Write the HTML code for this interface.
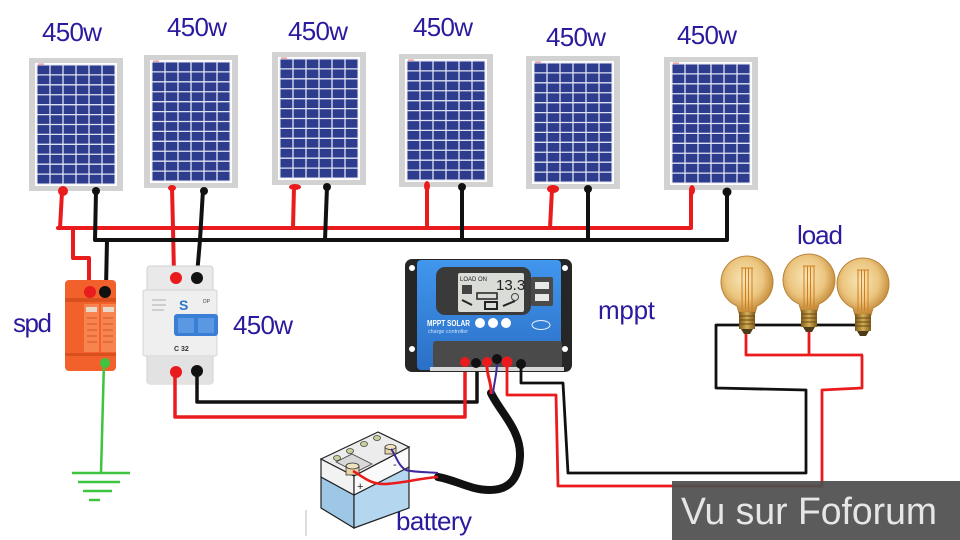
<!DOCTYPE html>
<html><head><meta charset="utf-8"><style>
html,body{margin:0;padding:0;background:#fff;width:960px;height:540px;overflow:hidden}
svg{display:block}
.lbl{font-family:"Liberation Sans",Arial,sans-serif;font-size:26px;fill:#2a1a9e}
</style></head><body>
<svg width="960" height="540" viewBox="0 0 960 540" xmlns="http://www.w3.org/2000/svg">
<defs>
<g id="panel">
<rect width="94" height="133" fill="#d2d2d2"/>
<rect x="6" y="5" width="82" height="123" fill="#fff"/>
<rect x="8" y="7" width="78" height="119" fill="#2e3c8e"/>
<path d="M21,7V126M34,7V126M47,7V126M60,7V126M73,7V126M8,16.9H86M8,26.8H86M8,36.75H86M8,46.7H86M8,56.6H86M8,66.5H86M8,76.4H86M8,86.3H86M8,96.25H86M8,106.2H86M8,116.1H86" stroke="#dde3f3" stroke-width="1.3"/>
<rect x="8" y="7" width="78" height="119" fill="none" stroke="#e6eaf6" stroke-width="1"/>
<rect x="9" y="5.5" width="6" height="1.2" fill="#e88"/>
</g>
<radialGradient id="glass" cx="0.45" cy="0.4" r="0.6">
<stop offset="0" stop-color="#f8e6b8"/>
<stop offset="0.6" stop-color="#ebc57e"/>
<stop offset="1" stop-color="#c08532"/>
</radialGradient>
<linearGradient id="gold" x1="0" x2="1">
<stop offset="0" stop-color="#7d5a1c"/>
<stop offset="0.5" stop-color="#d4ad55"/>
<stop offset="1" stop-color="#7d5a1c"/>
</linearGradient>
<g id="bulb">
<path d="M-10,24 A26,26 0 1 1 10,24 L8,31 L-8,31 Z" fill="url(#glass)" stroke="#b98238" stroke-width="1"/>
<path d="M-5,-14V27M5,-14V27M-1.5,-14V27M1.5,-14V27M-6,-14H6" stroke="#d07d1e" stroke-width="1" fill="none"/>
<rect x="-8" y="30" width="16" height="17" fill="url(#gold)"/>
<path d="M-8,34H8M-8,38H8M-8,42H8" stroke="#6a4a14" stroke-width="1"/>
<path d="M-6,47H6L3,52H-3Z" fill="#4d3a18"/>
</g>
<linearGradient id="blueg" x1="0" y1="0" x2="0" y2="1">
<stop offset="0" stop-color="#4196ee"/>
<stop offset="1" stop-color="#2b6fc6"/>
</linearGradient>
</defs>

<use href="#panel" x="29" y="58"/>
<use href="#panel" x="144" y="55"/>
<use href="#panel" x="272" y="52"/>
<use href="#panel" x="399" y="54"/>
<use href="#panel" x="526" y="56"/>
<use href="#panel" x="664" y="57"/>

<text class="lbl" x="42" y="41" textLength="60">450w</text>
<text class="lbl" x="167" y="36" textLength="60">450w</text>
<text class="lbl" x="288" y="40" textLength="60">450w</text>
<text class="lbl" x="413" y="36" textLength="60">450w</text>
<text class="lbl" x="546" y="46" textLength="60">450w</text>
<text class="lbl" x="677" y="44" textLength="60">450w</text>
<text class="lbl" x="13" y="332" textLength="39">spd</text>
<text class="lbl" x="233" y="334" textLength="60">450w</text>
<text class="lbl" x="598" y="319" textLength="57">mppt</text>
<text class="lbl" x="797" y="244" textLength="46">load</text>
<text class="lbl" x="396" y="530" textLength="76">battery</text>

<g fill="none" stroke-width="4" stroke-linejoin="round" stroke-linecap="round">
<path d="M58,228H691V190M62,192L60,228M172,188L173,228L174,275M294,187L293,228M427,186V228M552,189L550,228" stroke="#ea1b1d"/>
<path d="M95,240H727V192M96,191L95,240M203,190L200,240L197,275M327,187L325,240M462,187V240M588,189V240" stroke="#111"/>
<path d="M73,228V258H89V288" stroke="#ea1b1d"/>
<path d="M107,240L106,288" stroke="#111"/>
</g>
<g fill="#ea1b1d">
<ellipse cx="63" cy="191" rx="5" ry="5"/>
<ellipse cx="172" cy="188" rx="4" ry="3"/>
<ellipse cx="295" cy="187" rx="6" ry="3"/>
<ellipse cx="427" cy="186" rx="3" ry="5"/>
<ellipse cx="553" cy="189" rx="6" ry="4"/>
<ellipse cx="692" cy="190" rx="3" ry="5"/>
</g>
<g fill="#111">
<circle cx="96" cy="191" r="4"/>
<circle cx="204" cy="191" r="4"/>
<circle cx="327" cy="187" r="4"/>
<circle cx="462" cy="187" r="4"/>
<circle cx="588" cy="189" r="4"/>
<circle cx="727" cy="192" r="4.5"/>
</g>

<rect x="65" y="280" width="51" height="91" rx="4" fill="#f2612c"/>
<rect x="65" y="298" width="51" height="4" fill="#d9501f"/>
<rect x="65" y="353" width="51" height="3" fill="#d9501f"/>
<rect x="84" y="304" width="15" height="48" fill="#f7834f"/>
<rect x="101" y="304" width="15" height="48" fill="#f7834f"/>
<rect x="86" y="307" width="11" height="5" fill="#e9d8c8"/>
<rect x="103" y="307" width="11" height="5" fill="#e9d8c8"/>
<path d="M87,318h10M87,324h10M87,330h10M87,336h10M87,342h10M103,318h10M103,324h10M103,330h10M103,336h10M103,342h10" stroke="#c24a20" stroke-width="0.8"/>
<circle cx="90" cy="292" r="6" fill="#ea1b1d"/>
<circle cx="105" cy="292" r="6" fill="#111"/>
<g stroke="#3ec43e" stroke-width="2.5" fill="none">
<path d="M104,362L101,473"/>
<path d="M72,473H130M78,482H120M83,491H112M89,500H100"/>
</g>
<circle cx="105" cy="363" r="5" fill="#3ec43e"/>

<rect x="147" y="266" width="66" height="118" rx="3" fill="#e9e9e9" stroke="#cfcfcf"/>
<rect x="143" y="290" width="74" height="66" rx="2" fill="#efefef" stroke="#d3d3d3"/>
<rect x="148" y="356" width="64" height="28" fill="#e2e2e2"/>
<path d="M152,300h14M152,305h14M152,310h12" stroke="#999" stroke-width="0.8"/>
<text x="179" y="310" font-family="Liberation Sans,sans-serif" font-size="14" font-weight="bold" fill="#2a76c8">S</text>
<text x="203" y="303" font-family="Liberation Sans,sans-serif" font-size="5" fill="#444">DP</text>
<rect x="174" y="314" width="44" height="22" rx="3" fill="#3a7ed6"/>
<rect x="178" y="318" width="16" height="15" fill="#5b98e4"/>
<rect x="198" y="318" width="16" height="15" fill="#5b98e4"/>
<text x="174" y="351" font-family="Liberation Sans,sans-serif" font-size="7" font-weight="bold" fill="#333">C 32</text>
<circle cx="176" cy="278" r="6" fill="#ea1b1d"/>
<circle cx="197" cy="278" r="6" fill="#111"/>
<circle cx="176" cy="372" r="6" fill="#ea1b1d"/>
<circle cx="197" cy="371" r="6" fill="#111"/>

<g fill="none" stroke-width="3.5" stroke-linejoin="round">
<path d="M197,371V402H477V363" stroke="#111"/>
<path d="M175,372V417H465V362" stroke="#ea1b1d"/>
</g>

<rect x="405" y="259" width="167" height="113" rx="7" fill="#262626"/>
<circle cx="412" cy="268" r="3" fill="#fff"/>
<circle cx="565" cy="268" r="3" fill="#fff"/>
<circle cx="412" cy="349" r="3" fill="#fff"/>
<circle cx="565" cy="349" r="3" fill="#fff"/>
<rect x="417" y="260" width="144" height="110" rx="4" fill="url(#blueg)"/>
<rect x="436" y="267" width="95" height="48" rx="9" fill="#3a3a3a"/>
<rect x="458" y="273" width="66" height="39" rx="2" fill="#dadcd7"/>
<text x="460" y="281" font-family="Liberation Sans,sans-serif" font-size="6" fill="#222">LOAD ON</text>
<text x="496" y="290" font-family="Liberation Sans,sans-serif" font-size="15" fill="#222">13.3</text>
<rect x="462" y="285" width="10" height="9" fill="#444"/>
<rect x="477" y="293" width="20" height="6" fill="none" stroke="#222" stroke-width="1.5"/>
<circle cx="515" cy="297" r="3.5" fill="none" stroke="#444"/>
<path d="M462,300l10,5M485,302h12v7h-12zM503,306l12,-5" stroke="#222" stroke-width="2" fill="none"/>
<rect x="531" y="277" width="22" height="29" rx="2" fill="#4a4a4a"/>
<rect x="535" y="282" width="14" height="7" fill="#e8e8e8"/>
<rect x="535" y="294" width="14" height="7" fill="#e8e8e8"/>
<text x="427" y="326" font-family="Liberation Sans,sans-serif" font-size="8" font-weight="bold" fill="#fff" textLength="43" lengthAdjust="spacingAndGlyphs">MPPT SOLAR</text>
<text x="428" y="333" font-family="Liberation Sans,sans-serif" font-size="5.5" fill="#cfe3ff" textLength="40" lengthAdjust="spacingAndGlyphs">charge controller</text>
<circle cx="480" cy="323" r="5" fill="#fff"/>
<circle cx="493" cy="323" r="5" fill="#fff"/>
<circle cx="506" cy="323" r="5" fill="#fff"/>
<ellipse cx="541" cy="325" rx="9" ry="4.5" fill="none" stroke="#e8f0ff" stroke-width="1"/>
<rect x="433" y="341" width="129" height="27" rx="3" fill="#4a4a4a"/>
<rect x="430" y="367" width="134" height="4" fill="#d8d8d8"/>
<path d="M491,393C500,412 521,430 520,456C519,480 508,490 490,490C470,490 456,480 438,477" fill="none" stroke="#111" stroke-width="8" stroke-linecap="round"/>
<path d="M487,363C486,375 492,382 491,394" fill="none" stroke="#ea1b1d" stroke-width="3"/>
<path d="M497,362C497,375 494,382 493,394" fill="none" stroke="#3b2a9a" stroke-width="2"/>
<circle cx="465" cy="362" r="5" fill="#ea1b1d"/>
<circle cx="476" cy="363" r="5" fill="#111"/>
<circle cx="487" cy="362" r="5" fill="#ea1b1d"/>
<circle cx="497" cy="359" r="5" fill="#111"/>
<circle cx="507" cy="362" r="5.5" fill="#ea1b1d"/>
<circle cx="521" cy="364" r="5" fill="#111"/>

<polygon points="321,477 354,495 354,528 321,508" fill="#9ec7e6" stroke="#222" stroke-width="1.2"/>
<polygon points="354,495 409,467 409,508 354,528" fill="#b4d6ef" stroke="#222" stroke-width="1.2"/>
<polygon points="321,459 354,476 354,495 321,477" fill="#f2f2f2" stroke="#222" stroke-width="1.2"/>
<polygon points="354,476 409,447 409,467 354,495" fill="#fafafa" stroke="#222" stroke-width="1.2"/>
<polygon points="321,459 378,432 409,447 354,476" fill="#ececec" stroke="#222" stroke-width="1.2"/>
<polygon points="336,462 352,454 372,464 356,472" fill="#d8d8d8" stroke="#444" stroke-width="0.8"/>
<g fill="#c9cf9a" stroke="#444" stroke-width="0.8">
<ellipse cx="337" cy="458" rx="3.5" ry="2.5"/>
<ellipse cx="350" cy="451" rx="3.5" ry="2.5"/>
<ellipse cx="364" cy="444" rx="3.5" ry="2.5"/>
<ellipse cx="377" cy="438" rx="3.5" ry="2.5"/>
</g>
<rect x="346" y="466" width="13" height="9" fill="#e6d3a8" stroke="#333" stroke-width="0.8"/>
<ellipse cx="352.5" cy="466" rx="6.5" ry="3" fill="#efe2c0" stroke="#333" stroke-width="0.8"/>
<rect x="385" y="447" width="11" height="7" fill="#e6d3a8" stroke="#333" stroke-width="0.8"/>
<ellipse cx="390.5" cy="447" rx="5.5" ry="2.5" fill="#efe2c0" stroke="#333" stroke-width="0.8"/>
<text x="357" y="490" font-family="Liberation Sans,sans-serif" font-size="11" fill="#222">+</text>
<text x="393" y="468" font-family="Liberation Sans,sans-serif" font-size="11" fill="#222">-</text>
<path d="M438,477C420,478 400,484 383,484C370,484 362,476 353,471" fill="none" stroke="#ea1b1d" stroke-width="2.5"/>
<path d="M438,473C425,472 412,472 406,470C398,466 396,455 391,449" fill="none" stroke="#3b2a9a" stroke-width="2"/>
<path d="M306,510V536" stroke="#bbb" stroke-width="1"/>

<g fill="none" stroke-width="2.8" stroke-linejoin="round">
<path d="M521,364V383H563L568,473H806V390L716,388V325H858" stroke="#111"/>
<path d="M507,362V395H556L558,486H822V390L862,388V355M746,333V355H863M809,332V355" stroke="#ea1b1d"/>
</g>
<use href="#bulb" x="747" y="282"/>
<use href="#bulb" x="809" y="280"/>
<use href="#bulb" x="863" y="284"/>

<rect x="672" y="481" width="288" height="59" fill="#4f4f4f" fill-opacity="0.93"/>
<text x="681" y="524" font-family="Liberation Sans,sans-serif" font-size="38" fill="#e6e6e6" textLength="256" lengthAdjust="spacingAndGlyphs">Vu sur Foforum</text>
</svg>
</body></html>
